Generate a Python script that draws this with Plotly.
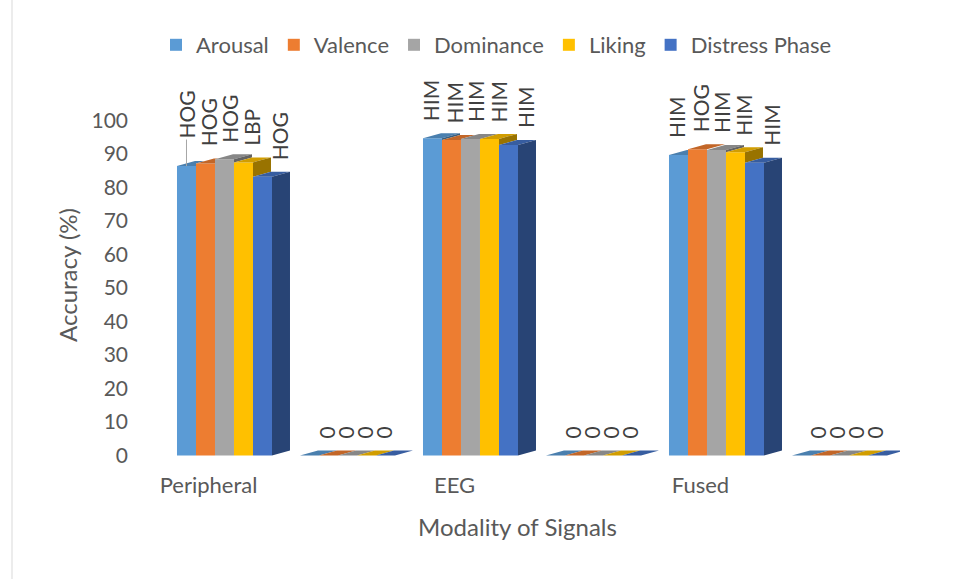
import plotly.graph_objects as go

# ---- data -------------------------------------------------------------
categories = ["Peripheral", "", "EEG", "", "Fused", ""]
series_names = ["Arousal", "Valence", "Dominance", "Liking", "Distress Phase"]

arousal = [86.4, 0, 94.7, 0, 89.7, 0]
valence = [87.2, 0, 94.2, 0, 91.4, 0]
dominance = [88.4, 0, 94.5, 0, 91.2, 0]
liking = [87.5, 0, 94.5, 0, 90.5, 0]
distress = [83.2, 0, 92.7, 0, 87.4, 0]

labels_arousal = ["HOG", "0", "HIM", "0", "HIM", "0"]
labels_valence = ["HOG", "0", "HIM", "0", "HOG", "0"]
labels_dominance = ["HOG", "0", "HIM", "0", "HIM", "0"]
labels_liking = ["LBP", "0", "HIM", "0", "HIM", "0"]
labels_distress = ["HOG", "", "HIM", "", "HIM", ""]

y_ticks = [0, 10, 20, 30, 40, 50, 60, 70, 80, 90, 100]

series_values = [arousal, valence, dominance, liking, distress]
series_labels = [labels_arousal, labels_valence, labels_dominance,
                 labels_liking, labels_distress]

# ---- styling ----------------------------------------------------------
front_colors = ["#5B9BD5", "#ED7D31", "#A5A5A5", "#FFC000", "#4472C4"]
FONT = "Lato"
TEXT_GREY = "#595959"
LABEL_GREY = "#404040"

W, H = 960, 579
M_L, M_R, M_T, M_B = 135, 60, 80, 109
X_RANGE = [-0.7276, 5.492]
Y_RANGE = [-4.33, 112.09]

plot_w = W - M_L - M_R
plot_h = H - M_T - M_B
px_x = plot_w / (X_RANGE[1] - X_RANGE[0])   # pixels per category
px_y = plot_h / (Y_RANGE[1] - Y_RANGE[0])   # pixels per percent

# oblique depth of the 3-D columns, in pixels
DEPTH_DX_PX, DEPTH_DY_PX = 18, 5
dx = DEPTH_DX_PX / px_x
dy = DEPTH_DY_PX / px_y
bar_w = 19 / px_x
n_series = len(series_names)


def shade(hex_color, f):
    h = hex_color.lstrip("#")
    r, g, b = (int(h[i:i + 2], 16) for i in (0, 2, 4))
    return "rgb({},{},{})".format(int(r * f), int(g * f), int(b * f))


def bar_left(i, k):
    return i + (k - n_series / 2) * bar_w


fig = go.Figure()

# front faces of the columns
for k, (name, vals) in enumerate(zip(series_names, series_values)):
    fig.add_trace(go.Bar(
        x=[i + (k - (n_series - 1) / 2) * bar_w for i in range(len(categories))],
        y=vals,
        width=bar_w,
        name=name,
        marker=dict(color=front_colors[k], line=dict(width=0)),
        hoverinfo="skip",
    ))

# top and side faces, clipped where the neighbouring column hides them
tops = [[] for _ in range(n_series)]
sides = [[] for _ in range(n_series)]
for i in range(len(categories)):
    for k in range(n_series):
        v = series_values[k][i]
        x0 = bar_left(i, k)
        x1 = x0 + bar_w
        last = k == n_series - 1
        vn = None if last else series_values[k + 1][i]

        if last or vn <= v:
            poly = [(x0, v), (x1, v), (x1 + dx, v + dy), (x0 + dx, v + dy)]
        elif vn >= v + dy:
            poly = [(x0, v), (x1, v), (x1, v + dy), (x0 + dx, v + dy)]
        else:
            s = (v + dy - vn) / dy
            poly = [(x0, v), (x1, v), (x1, vn), (x1 + s * dx, v + dy),
                    (x0 + dx, v + dy)]
        tops[k].append(poly)

        if last:
            sides[k].append([(x1, 0), (x1 + dx, dy), (x1 + dx, v + dy), (x1, v)])
        elif v > vn:
            sides[k].append([(x1, vn), (x1 + dx, vn + dy), (x1 + dx, v + dy), (x1, v)])


def poly_trace(polys, color):
    xs, ys = [], []
    for p in polys:
        xs += [pt[0] for pt in p] + [p[0][0], None]
        ys += [pt[1] for pt in p] + [p[0][1], None]
    return go.Scatter(x=xs, y=ys, mode="lines", fill="toself",
                      fillcolor=color, line=dict(width=0, color=color),
                      hoverinfo="skip", showlegend=False)


for k in range(n_series):
    fig.add_trace(poly_trace(tops[k], shade(front_colors[k], 0.82)))
    if sides[k]:
        fig.add_trace(poly_trace(sides[k], shade(front_colors[k], 0.6)))

# data labels (rotated), placed just above each column
LABEL_SIZE = 21
tall_shift_px = [-2, 2.5, 5, 8.5, 17]
zero_shift_px = 16.5
annotations = []
for k in range(n_series):
    for i, txt in enumerate(series_labels[k]):
        if not txt:
            continue
        v = series_values[k][i]
        xc = i + (k - (n_series - 1) / 2) * bar_w
        if i == 0 and k == 0:
            # label pulled upward with a leader line
            annotations.append(dict(
                x=xc, y=v, xref="x", yref="y", text=txt, textangle=-90,
                showarrow=True, arrowhead=0, arrowwidth=1, arrowcolor="#A6A6A6",
                ax=0, ay=-52, standoff=0,
                font=dict(family=FONT, size=LABEL_SIZE, color=LABEL_GREY)))
            continue
        shift = zero_shift_px if v == 0 else tall_shift_px[k]
        annotations.append(dict(
            x=xc + shift / px_x, y=v, xref="x", yref="y", text=txt,
            textangle=-90, showarrow=False, xanchor="center", yanchor="bottom",
            yshift=15, font=dict(family=FONT, size=LABEL_SIZE, color=LABEL_GREY)))

tick_idx = [i for i, c in enumerate(categories) if c]

fig.update_layout(
    width=W, height=H,
    margin=dict(l=M_L, r=M_R, t=M_T, b=M_B),
    paper_bgcolor="white", plot_bgcolor="white",
    barmode="overlay",
    font=dict(family=FONT, color=TEXT_GREY),
    showlegend=True,
    legend=dict(orientation="h", x=(496.5 - M_L) / plot_w, xanchor="center",
                y=1 + (M_T - 45) / plot_h, yanchor="middle",
                font=dict(family=FONT, size=22, color=TEXT_GREY),
                itemwidth=30, traceorder="normal"),
    xaxis=dict(range=X_RANGE, showgrid=False, zeroline=False, showline=False,
               ticks="", tickvals=[i - 0.13 for i in tick_idx],
               ticktext=[categories[i] for i in tick_idx],
               tickfont=dict(family=FONT, size=22, color=TEXT_GREY),
               title=dict(text="Modality of Signals", standoff=22,
                          font=dict(family=FONT, size=24, color=TEXT_GREY))),
    yaxis=dict(range=Y_RANGE, showgrid=False, zeroline=False, showline=False,
               ticks="", tickvals=y_ticks, ticklabelstandoff=6,
               tickfont=dict(family=FONT, size=21, color=TEXT_GREY),
               title=dict(text="Accuracy (%)", standoff=7,
                          font=dict(family=FONT, size=24, color=TEXT_GREY))),
    annotations=annotations,
    shapes=[dict(type="line", xref="paper", yref="paper",
                 x0=(12 - M_L) / plot_w, x1=(12 - M_L) / plot_w,
                 y0=-M_B / plot_h, y1=1 + M_T / plot_h,
                 line=dict(color="#D9D9D9", width=1))],
)

fig.write_html("out.html")
